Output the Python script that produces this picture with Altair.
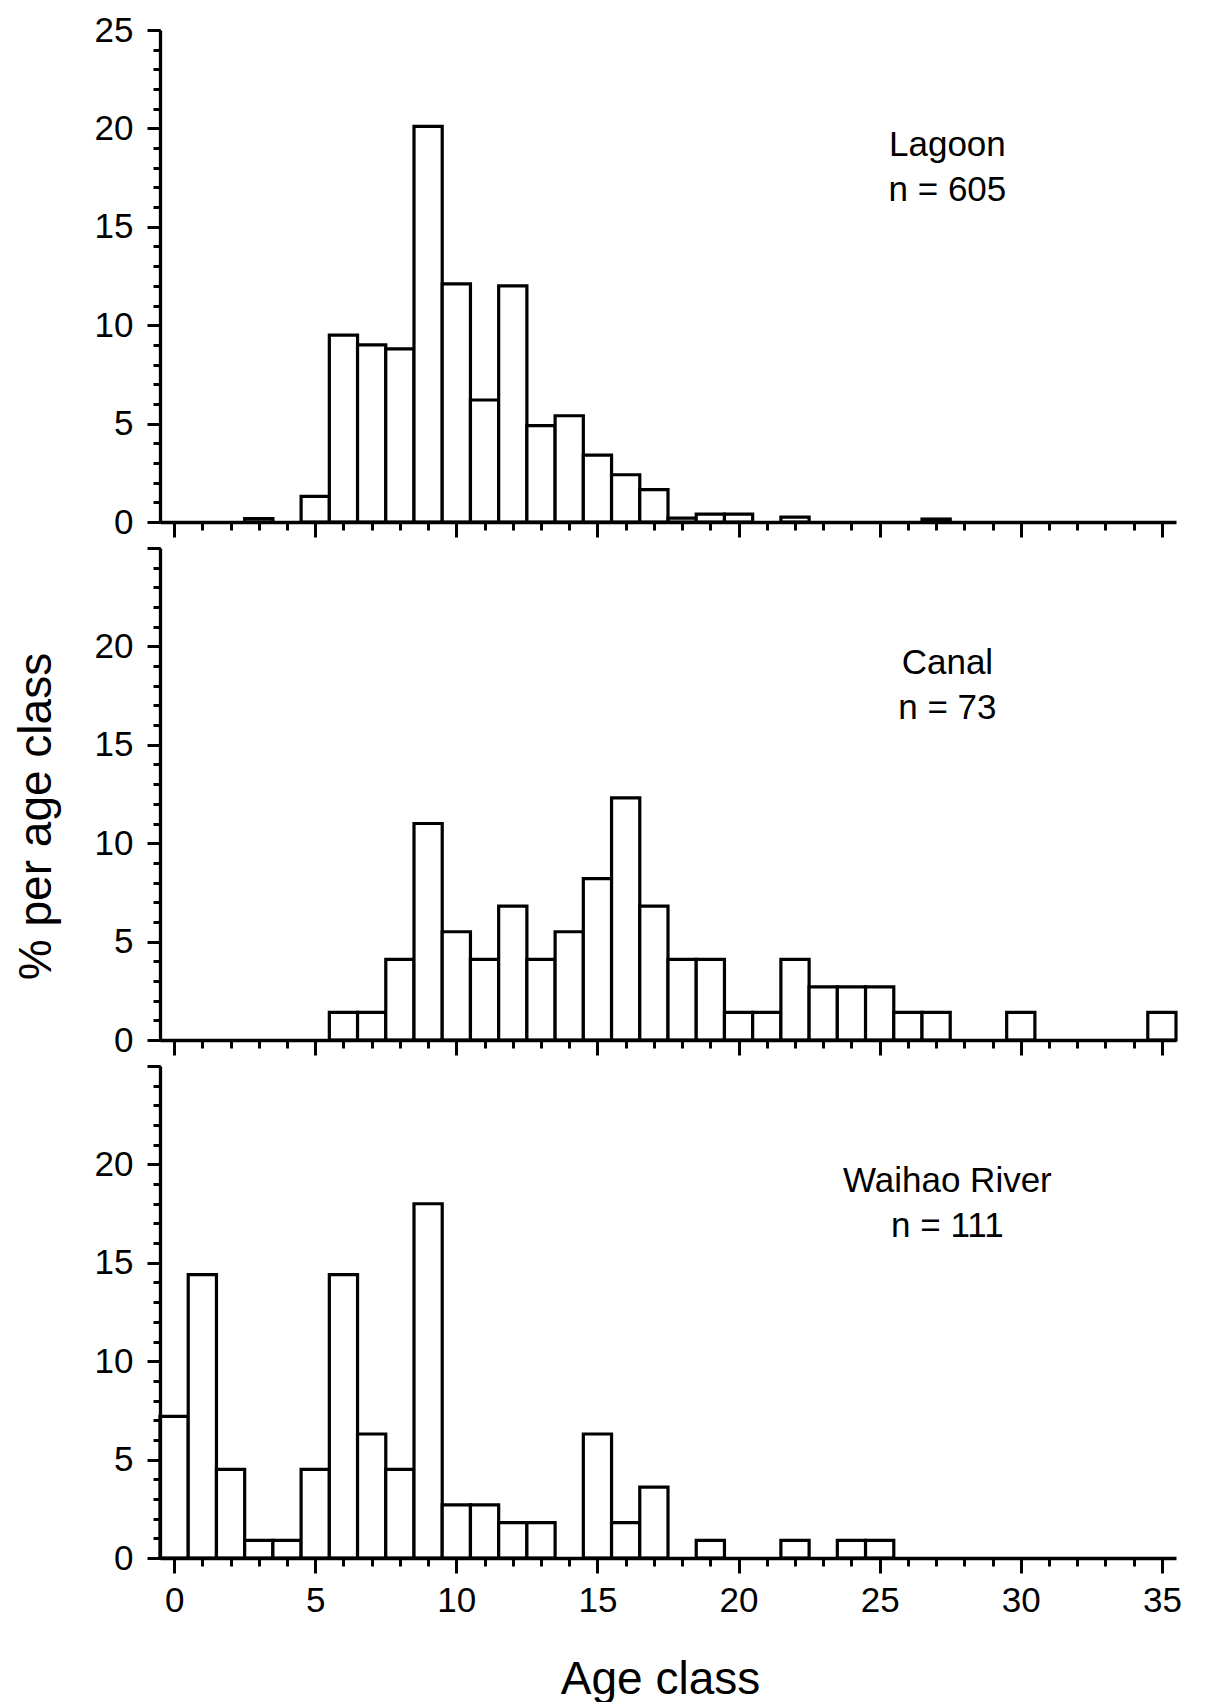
import altair as alt
import pandas as pd

ages = list(range(36))
lagoon = [0, 0, 0, 0.17, 0, 1.3, 9.5, 9.0, 8.8, 20.1, 12.1, 6.2, 12.0, 4.9, 5.4, 3.4,
          2.4, 1.65, 0.2, 0.4, 0.4, 0, 0.25, 0, 0, 0, 0, 0.15, 0, 0, 0, 0, 0, 0, 0, 0]
canal = [0, 0, 0, 0, 0, 0, 1.4, 1.4, 4.1, 11.0, 5.5, 4.1, 6.8, 4.1, 5.5, 8.2,
         12.3, 6.8, 4.1, 4.1, 1.4, 1.4, 4.1, 2.7, 2.7, 2.7, 1.4, 1.4, 0, 0, 1.4, 0, 0, 0, 0, 1.4]
waihao = [7.2, 14.4, 4.5, 0.9, 0.9, 4.5, 14.4, 6.3, 4.5, 18.0, 2.7, 2.7, 1.8, 1.8, 0, 6.3,
          1.8, 3.6, 0, 0.9, 0, 0, 0.9, 0, 0.9, 0.9, 0, 0, 0, 0, 0, 0, 0, 0, 0, 0]

panel_names = ["Lagoon", "Canal", "Waihao River"]
panel_n = ["n = 605", "n = 73", "n = 111"]
panel_values = [lagoon, canal, waihao]

major_x = [0, 5, 10, 15, 20, 25, 30, 35]
minor_x = list(range(0, 36))
major_y = [0, 5, 10, 15, 20, 25]
minor_y = list(range(0, 26))

label_x = [27.4, 27.4]
label_y = [18.6, 16.3]

FONT = "Liberation Sans"
W = 1016
H = 492
xscale = alt.Scale(domain=[-0.5, 35.5], nice=False, zero=False)
yscale = alt.Scale(domain=[0, 25], nice=False)


def panel(i):
    df = pd.DataFrame({"age": ages, "pct": panel_values[i]})
    bottom = i == 2
    middle = i == 1
    top = i == 0

    xaxis_kw = dict(values=major_x, orient="bottom", tickSize=15, tickWidth=3,
                    domainWidth=3.3, domainColor="black", tickColor="black",
                    labels=bottom, grid=False, zindex=1, labelFontSize=35,
                    labelPadding=10, labelColor="black", labelFont=FONT)
    if bottom:
        xaxis_kw.update(title="Age class", titleFontSize=46, titleFont=FONT,
                        titleFontWeight="normal", titleColor="black",
                        titleX=500, titleY=135, titleAlign="center",
                        titleBaseline="alphabetic")
    else:
        xaxis_kw.update(title=None)

    yaxis_kw = dict(values=major_y, orient="left", tickSize=13, tickWidth=3,
                    domainWidth=3.3, domainColor="black", tickColor="black",
                    grid=False, zindex=1, labelFontSize=35, labelPadding=14,
                    labelColor="black", labelFont=FONT)
    if not top:
        yaxis_kw.update(labelExpr="datum.value >= 25 ? '' : datum.label")
    if middle:
        yaxis_kw.update(title="% per age class", titleFontSize=46, titleFont=FONT,
                        titleFontWeight="normal", titleColor="black",
                        titleX=-100, titleY=268, titleAngle=270,
                        titleAlign="center", titleBaseline="bottom")
    else:
        yaxis_kw.update(title=None)

    bars = alt.Chart(df).transform_filter("datum.pct > 0").transform_calculate(
        x0="datum.age - 0.5", x1="datum.age + 0.5"
    ).mark_bar(fill="white", stroke="black", strokeWidth=3.2).encode(
        x=alt.X("x0:Q", scale=xscale, axis=alt.Axis(**xaxis_kw)),
        x2="x1:Q",
        y=alt.Y("pct:Q", scale=yscale, axis=alt.Axis(**yaxis_kw)),
        y2=alt.datum(0),
    )

    minor = alt.Chart(pd.DataFrame({"age": ages, "pct": panel_values[i]})).mark_point(
        opacity=0
    ).encode(
        x=alt.X("age:Q", scale=xscale,
                axis=alt.Axis(values=minor_x, orient="bottom", tickSize=8, tickWidth=3,
                              tickColor="black", domain=False, labels=False,
                              grid=False, title=None)),
        y=alt.Y("pct:Q", scale=yscale,
                axis=alt.Axis(values=minor_y, orient="left", tickSize=7, tickWidth=3,
                              tickColor="black", domain=False, labels=False,
                              grid=False, title=None)),
    )

    tdf = pd.DataFrame({"x": label_x, "y": label_y,
                        "t": [panel_names[i], panel_n[i]]})
    text = alt.Chart(tdf).mark_text(
        font=FONT, fontSize=35, align="center", baseline="alphabetic", color="black"
    ).encode(
        x=alt.X("x:Q", scale=xscale, axis=None),
        y=alt.Y("y:Q", scale=yscale, axis=None),
        text="t:N",
    )

    return alt.layer(bars, minor, text).resolve_axis(
        x="independent", y="independent"
    ).properties(width=W, height=H)


chart = alt.vconcat(panel(0), panel(1), panel(2), spacing=26, bounds="flush").properties(
    padding={"left": 5, "top": 5, "right": 5, "bottom": 0}
).configure(background="white").configure_view(stroke=None, strokeWidth=0)

chart.save("out.html", embed_options={"renderer": "svg", "actions": False})
